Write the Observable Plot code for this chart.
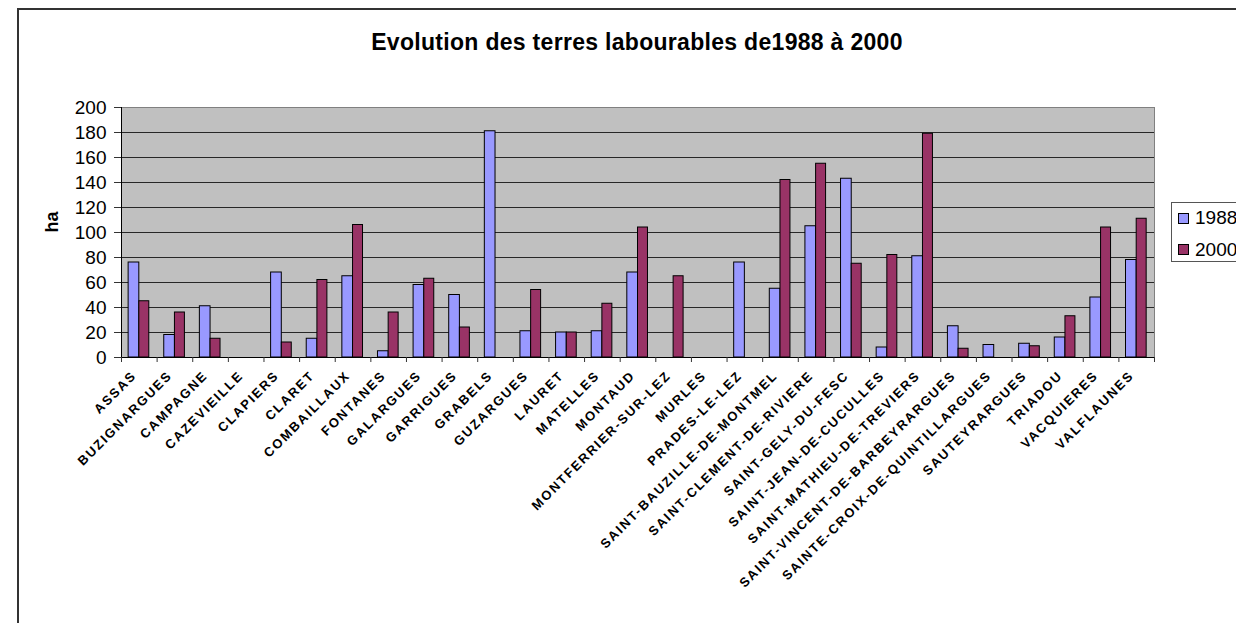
<!DOCTYPE html>
<html>
<head>
<meta charset="utf-8">
<script src="https://cdn.jsdelivr.net/npm/d3@7"></script>
<script src="https://cdn.jsdelivr.net/npm/@observablehq/plot@0.6"></script>
<style>
  html, body { margin: 0; padding: 0; background: #fff; overflow: hidden; width: 1236px; height: 623px; }
  #wrap { position: relative; width: 1236px; height: 623px; font-family: "Liberation Sans", Arial, sans-serif; }
  #frame { position: absolute; left: 17px; top: 8px; width: 1400px; height: 800px; border: 2px solid #333; box-sizing: border-box; }
  #title { position: absolute; left: 0; top: 31px; width: 1274px; text-align: center; font-size: 23px; line-height: 1; font-weight: bold; letter-spacing: 0.3px; color: #000; }
  #chart { position: absolute; left: 0; top: 0; }
  #legend { position: absolute; left: 1171px; top: 202px; width: 120px; height: 60px; border: 1px solid #555; background: #fff; box-sizing: border-box; }
  .sw { position: absolute; width: 9px; height: 9px; border: 1px solid #000; }
  .lt { position: absolute; font-size: 19px; line-height: 1; color: #000; }
</style>
</head>
<body>
<div id="wrap">
  <div id="frame"></div>
  <div id="chart"></div>
  <div id="title"></div>
  <div id="legend"></div>
</div>
<script>
const title = "Evolution des terres labourables de1988 à 2000";
const yLabel = "ha";
const seriesNames = ["1988", "2000"];
const seriesColors = ["#9999ff", "#993366"];
const communes = ["ASSAS","BUZIGNARGUES","CAMPAGNE","CAZEVIEILLE","CLAPIERS","CLARET","COMBAILLAUX","FONTANES","GALARGUES","GARRIGUES","GRABELS","GUZARGUES","LAURET","MATELLES","MONTAUD","MONTFERRIER-SUR-LEZ","MURLES","PRADES-LE-LEZ","SAINT-BAUZILLE-DE-MONTMEL","SAINT-CLEMENT-DE-RIVIERE","SAINT-GELY-DU-FESC","SAINT-JEAN-DE-CUCULLES","SAINT-MATHIEU-DE-TREVIERS","SAINT-VINCENT-DE-BARBEYRARGUES","SAINTE-CROIX-DE-QUINTILLARGUES","SAUTEYRARGUES","TRIADOU","VACQUIERES","VALFLAUNES"];
const v1988 = [76,18,41,0,68,15,65,5,58,50,181,21,20,21,68,0,0,76,55,105,143,8,81,25,10,11,16,48,78];
const v2000 = [45,36,15,0,12,62,106,36,63,24,0,54,20,43,104,65,0,0,142,155,75,82,179,7,0,9,33,104,111];
const yTicks = [0,20,40,60,80,100,120,140,160,180,200];

const table = communes.map((c, i) => ({commune: c, v1988: v1988[i], v2000: v2000[i]}));

const W = 1236, H = 623, ML = 121, MR = 82, MT = 107, MB = 266;
const step = (W - ML - MR) / communes.length;

const chart = Plot.plot({
  width: W, height: H,
  marginLeft: ML, marginRight: MR, marginTop: MT, marginBottom: MB,
  style: {fontFamily: "'Liberation Sans', Arial, sans-serif", background: "transparent", overflow: "visible"},
  x: {domain: communes, padding: 0, round: false, axis: null},
  y: {domain: [0, 200], axis: null},
  marks: [
    Plot.frame({fill: "#c0c0c0", stroke: "#808080"}),
    Plot.ruleY(yTicks.filter(t => t > 0 && t < 200), {stroke: "#000", strokeOpacity: 0.8}),
    Plot.barY(table, {filter: d => d.v1988 > 0, x: "commune", y: "v1988", fill: seriesColors[0], stroke: "#000", strokeWidth: 1, insetLeft: step * 0.2, insetRight: step * 0.5}),
    Plot.barY(table, {filter: d => d.v2000 > 0, x: "commune", y: "v2000", fill: seriesColors[1], stroke: "#000", strokeWidth: 1, insetLeft: step * 0.5, insetRight: step * 0.22}),
    Plot.ruleY([0], {stroke: "#000"}),
    Plot.ruleX([communes[0]], {y1: 0, y2: 200, dx: -step / 2, stroke: "#000"}),
    Plot.ruleX(communes, {y1: 0, y2: -4, dx: -step / 2, stroke: "#333"}),
    Plot.ruleX([communes[communes.length - 1]], {y1: 0, y2: -4, dx: step / 2, stroke: "#333"}),
    Plot.axisY({ticks: yTicks, tickSize: 7, tickPadding: 8, fontSize: 19, tickFormat: d => String(d), stroke: "#333"}),
    Plot.text([yLabel], {frameAnchor: "left", dx: -69, rotate: -90, fontWeight: "bold", fontSize: 18}),
    Plot.text(communes, {x: d => d, frameAnchor: "bottom", rotate: -45, textAnchor: "end", lineAnchor: "middle", dx: -5, dy: 16, fontWeight: "bold", fontSize: 13})
  ]
});
d3.select(chart).selectAll("text")
  .filter(function() { return communes.includes(this.textContent); })
  .style("letter-spacing", "1.8px");
document.getElementById("chart").appendChild(chart);
document.getElementById("title").textContent = title;

const legend = document.getElementById("legend");
seriesNames.forEach((name, i) => {
  const sw = document.createElement("div");
  sw.className = "sw";
  sw.style.left = "6px";
  sw.style.top = (10 + i * 31) + "px";
  sw.style.background = seriesColors[i];
  legend.appendChild(sw);
  const t = document.createElement("div");
  t.className = "lt";
  t.style.left = "23px";
  t.style.top = (5 + i * 32) + "px";
  t.textContent = name;
  legend.appendChild(t);
});
</script>
</body>
</html>
